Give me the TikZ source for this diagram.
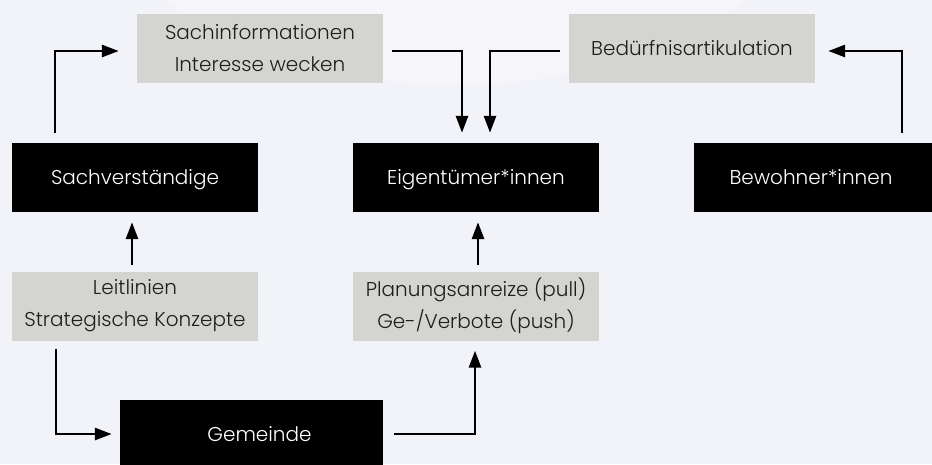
\documentclass[tikz,border=0pt]{standalone}
\usepackage{fontspec}
\setmainfont{Poppins}[UprightFont=* Light]
\usetikzlibrary{arrows.meta}
\definecolor{bgc}{HTML}{F2F3F8}
\definecolor{bgl}{HTML}{F6F6FA}
\definecolor{boxg}{HTML}{D4D4D0}
\definecolor{txt}{HTML}{1E1E1E}
\tikzset{
  lbl/.style={align=center, inner sep=0pt, font=\fontsize{20}{32}\selectfont},
  graybox/.style={lbl, rectangle, fill=boxg, text=txt, minimum width=246pt, minimum height=69pt},
  blackbox/.style={rectangle, fill=black, minimum width=246pt, minimum height=69pt, inner sep=0pt},
  wtxt/.style={lbl, text=white, anchor=base},
  arr/.style={line width=2.8pt, -{Triangle[length=17pt,width=12pt]}}
}
\begin{document}
\begin{tikzpicture}[x=1pt,y=-1pt]
\fill[bgc] (0,0) rectangle (932,464);
\begin{scope}
\clip (0,0) rectangle (932,464);
\fill[bgl] (455,-200) ellipse [x radius=410, y radius=285];
\end{scope}
\useasboundingbox (0,0) rectangle (932,464);

\node[graybox] (sachinfo) at (260,48.5) {Sachinformationen\\Interesse wecken};
\node[graybox] (beduerf) at (692,48.5) {Bedürfnisartikulation};
\node[blackbox] (sachv) at (135,177.5) {};
\node[wtxt] (sachvtxt) at (135,184.5) {Sachverständige};
\node[blackbox] (eigen) at (476,177.5) {};
\node[wtxt] (eigentxt) at (476,184.5) {Eigentümer*innen};
\begin{scope}
\clip (0,0) rectangle (932,464);
\node[blackbox] (bewohn) at (817,177.5) {};
\node[wtxt] (bewohntxt) at (811,184.5) {Bewohner*innen};
\node[blackbox, minimum width=263pt, minimum height=70pt] (gemeinde) at (251.5,435) {};
\node[wtxt] (gemtxt) at (259.5,441.5) {Gemeinde};
\end{scope}
\node[graybox] (leit) at (135,306) {Leitlinien\\Strategische Konzepte};
\node[graybox] (plan) at (476,306) {Planungsanreize (pull)\\Ge-/Verbote (push)};

% connectors
\draw[arr] ([xshift=-80pt,yshift=10pt]sachv.north) |- ([xshift=-18pt,yshift=-2.5pt]sachinfo.west);
\draw[arr] ([xshift=9pt,yshift=-2.5pt]sachinfo.east) -| ([xshift=-14pt,yshift=10pt]eigen.north);
\draw[arr] ([xshift=-9pt,yshift=-2.5pt]beduerf.west) -| ([xshift=14pt,yshift=10pt]eigen.north);
\draw[arr] ([xshift=85pt,yshift=10pt]bewohn.north) |- ([xshift=13pt,yshift=-2.5pt]beduerf.east);
\draw[arr] ([xshift=-3pt,yshift=6pt]leit.north) -- ([xshift=-3pt,yshift=-10pt]sachv.south);
\draw[arr] ([xshift=2pt,yshift=6pt]plan.north) -- ([xshift=2pt,yshift=-10pt]eigen.south);
\draw[arr] ([xshift=-79pt,yshift=-8pt]leit.south) |- ([xshift=-8pt,yshift=1pt]gemeinde.west);
\draw[arr] ([xshift=11pt,yshift=1pt]gemeinde.east) -| ([xshift=-1pt,yshift=-10pt]plan.south);
\end{tikzpicture}
\end{document}
